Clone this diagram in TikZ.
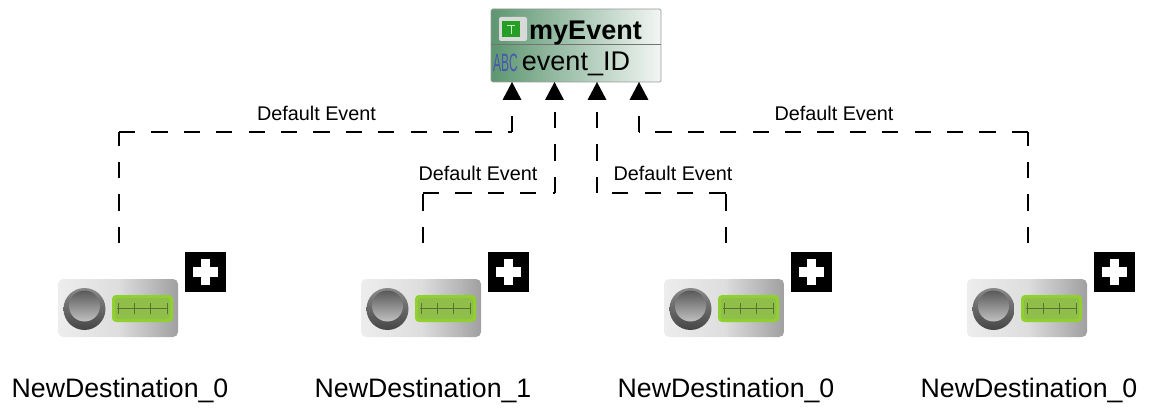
\documentclass[tikz,border=0pt]{standalone}
\usepackage{fontspec}
\setmainfont{Liberation Sans}
\usetikzlibrary{shapes.geometric,calc}
\definecolor{boxdark}{HTML}{5C9670}
\definecolor{boxlight}{HTML}{F2F6F4}
\definecolor{iconlight}{HTML}{EDEDED}
\definecolor{icondark}{HTML}{A0A0A0}
\definecolor{knobdark}{HTML}{454545}
\definecolor{knobmid}{HTML}{8A8A8A}
\definecolor{knoblight}{HTML}{C0C0C0}
\definecolor{lcd}{HTML}{90D030}
\definecolor{lcdin}{HTML}{8FBF4A}
\definecolor{lcddark}{HTML}{55752F}
\definecolor{abcblue}{HTML}{4A55B0}
\tikzset{
  link/.style={line width=2pt,dash pattern=on 16.2pt off 16.2pt,line join=miter},
  linklabel/.style={font=\fontsize{19.8}{22}\selectfont,inner sep=0pt,anchor=center},
  destlabel/.style={font=\fontsize{26.7}{29}\selectfont,inner sep=0pt,anchor=center},
  porttip/.style={fill=black,draw=none},
  plusbox/.style={fill=black,draw=none},
}
\newcommand{\destIcon}[4]{% x offset, index, label, anchor name
  \begin{scope}[shift={(#1,0)}]
    \shade[rounded corners=5pt,shading angle=25,left color=iconlight,right color=icondark,middle color=iconlight!80!icondark]
      (58,279) rectangle (178,337);
    \shade[top color=knobmid,bottom color=knobdark] (84.5,309) circle (21);
    \shade[top color=knobdark!70!knobmid,bottom color=knoblight] (84.5,306) circle (15.5);
    \fill[rounded corners=4pt,lcd] (112,295) rectangle (173,322);
    \fill[rounded corners=3pt,lcdin] (115,298) rectangle (170,319);
    \draw[lcddark,line width=1.1pt] (117,308.5) -- (168,308.5);
    \foreach \t in {118,134,150,167} \draw[lcddark,line width=1pt] (\t,303) -- (\t,314);
    \fill[plusbox] (185,252) rectangle (226,292);
    \fill[white] (201,259) rectangle (210,285);
    \fill[white] (193,267) rectangle (218,277);
    \node[destlabel] (#4) at (120,390.5) {#3};
  \end{scope}
}
\begin{document}
\begin{tikzpicture}[x=1pt,y=-1pt]
\useasboundingbox (0,0) rectangle (1152,409);
% event block
\shade[rounded corners=1.5pt,shading angle=100,left color=boxdark,right color=boxlight]
  (491,9) rectangle (661,82);
\draw[rounded corners=1.5pt,gray!80,line width=.7pt] (491,9) rectangle (661,82);
\draw[black!55,line width=.8pt] (491,44) -- (661,44);
\fill[rounded corners=2pt,gray!30] (499,17) rectangle (527,41);
\fill[green!55!black!85!white] (502,21) rectangle (520,37);
\draw[white!75!green,line width=1pt] (507,26) -- (515,26) (511,26) -- (511,34);
\node[font=\bfseries\fontsize{27}{29}\selectfont,inner sep=0pt] (title) at (585.5,33) {myEvent};
\node[font=\fontsize{27}{29}\selectfont,inner sep=0pt] (attr) at (576,64) {event\_ID};
\node[font=\fontsize{25}{27}\selectfont,text=abcblue,inner sep=0pt,xscale=.48] (abc) at (505.5,63) {ABC};
% sources
\destIcon{0}{0}{NewDestination\_0}{d0}
\destIcon{303}{1}{NewDestination\_1}{d1}
\destIcon{606}{2}{NewDestination\_0}{d2}
\destIcon{909}{3}{NewDestination\_0}{d3}
% named connector ends
\coordinate (s0) at (119,243); \coordinate (b0) at (119,132); \coordinate (c0) at (512,132); \coordinate (p0) at (512,84);
\coordinate (s1) at (423,243); \coordinate (b1) at (423,193); \coordinate (c1) at (554.5,193); \coordinate (p1) at (554.5,84);
\coordinate (s2) at (725.5,243); \coordinate (b2) at (725.5,193); \coordinate (c2) at (597,193); \coordinate (p2) at (597,84);
\coordinate (s3) at (1028,243); \coordinate (b3) at (1028,132); \coordinate (c3) at (639,132); \coordinate (p3) at (639,84);
\foreach \i in {0,1,2,3}{
  \draw[link] (s\i) -- (b\i) (b\i) -- (c\i) (c\i) -- (p\i);
  \fill[porttip] ($(p\i)+(0,-2)$) -- ++(9.5,18) -- ++(-19,0) -- cycle;
}
\node[linklabel] (l0) at (316.5,113) {Default Event};
\node[linklabel] (l1) at (478,173) {Default Event};
\node[linklabel] (l2) at (673,173) {Default Event};
\node[linklabel] (l3) at (834,113) {Default Event};
\end{tikzpicture}
\end{document}
